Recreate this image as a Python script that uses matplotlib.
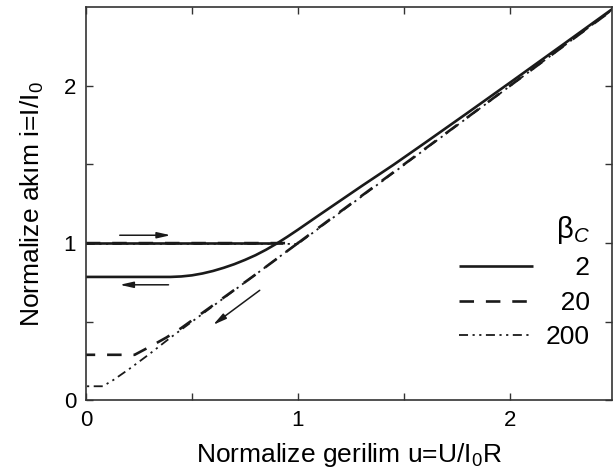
import numpy as np
import matplotlib
matplotlib.use('Agg')
import matplotlib.pyplot as plt

plt.rcParams['font.family'] = ['Liberation Sans', 'DejaVu Sans']
plt.rcParams['mathtext.fontset'] = 'custom'
plt.rcParams['mathtext.rm'] = 'Liberation Sans'
plt.rcParams['mathtext.it'] = 'Liberation Sans:italic'

# beta_C = 2 : switching branch and running (return) branch
b2_up_u = [0.0, 0.90]
b2_up_i = [1.0, 1.0]
b2_run_u = [0.0, 0.40, 0.45, 0.50, 0.55, 0.60, 0.65, 0.70, 0.75, 0.80, 0.85,
            0.90, 0.95, 1.00, 1.10, 1.20, 1.30, 1.45, 1.60, 1.80, 2.00, 2.25,
            2.50]
b2_run_i = [0.785, 0.785, 0.788, 0.795, 0.807, 0.823, 0.843, 0.866, 0.893,
            0.923, 0.958, 0.997, 1.04, 1.085, 1.178, 1.27, 1.362, 1.497,
            1.638, 1.828, 2.02, 2.262, 2.505]

# beta_C = 20
b20_up_u = [0.0, 1.0, 2.5]
b20_up_i = [1.0, 1.0, 2.5]
b20_down_u = [1.0, 0.80, 0.60, 0.45, 0.38, 0.30, 0.23, 0.0]
b20_down_i = [1.0, 0.80, 0.605, 0.46, 0.40, 0.34, 0.29, 0.29]

# beta_C = 200
b200_up_u = [0.0, 1.0, 2.5]
b200_up_i = [0.995, 0.995, 2.5]
b200_down_u = [1.0, 0.80, 0.60, 0.40, 0.30, 0.21, 0.13, 0.08, 0.0]
b200_down_i = [1.0, 0.80, 0.60, 0.40, 0.295, 0.205, 0.13, 0.09, 0.09]

# arrows: (start, end)
arrows = [((0.16, 1.05), (0.40, 1.05)),
          ((0.39, 0.735), (0.16, 0.735)),
          ((0.82, 0.70), (0.60, 0.48))]

fig = plt.figure(figsize=(6.13, 4.75), dpi=100)
ax = fig.add_axes([0.140, 0.157, 0.858, 0.828])

solid = dict(color='#1a1a1a', lw=1.9, solid_capstyle='butt')
ax.plot(b2_up_u, b2_up_i, **solid)
l2, = ax.plot(b2_run_u, b2_run_i, **solid)

dash = dict(color='#1a1a1a', lw=1.9, dashes=(5.5, 4.5))
ax.plot(b20_up_u, b20_up_i, **dash)
l20, = ax.plot(b20_down_u, b20_down_i, **dash)

ddot = dict(color='#1a1a1a', lw=1.3, dashes=(5, 2.5, 1.2, 2.5, 1.2, 2.5))
ax.plot(b200_up_u, b200_up_i, **ddot)
l200, = ax.plot(b200_down_u, b200_down_i, **ddot)

for (s, e) in arrows:
    ax.annotate('', xy=e, xytext=s,
                arrowprops=dict(arrowstyle='-|>,head_length=0.8,head_width=0.18',
                                color='#1a1a1a', lw=1.1, shrinkA=0, shrinkB=0))

ax.set_xlim(0, 2.48)
ax.set_ylim(0, 2.5)
ax.set_xticks([0, 1, 2])
ax.set_yticks([0, 1, 2])
ax.set_xticks([0.5, 1.5], minor=True)
ax.set_yticks([0.5, 1.5], minor=True)
ax.tick_params(which='both', direction='in', top=True, right=True,
               length=5, width=1.0, color='#333333')
ax.tick_params(which='major', labelsize=16, pad=7)
for sp in ax.spines.values():
    sp.set_linewidth(1.2)
    sp.set_color('#333333')

ax.set_xlabel('Normalize gerilim u=U/I$_0$R', fontsize=19, labelpad=7)
ax.set_ylabel('Normalize akım i=I/I$_0$', fontsize=19, labelpad=13)

leg = ax.legend([l2, l20, l200], ['\u2007\u20072', '\u200720', '200'],
                title=r'$\mathrm{\beta}_{\mathit{C}}$',
                loc='upper left', bbox_to_anchor=(0.664, 0.535),
                frameon=False, fontsize=19, title_fontsize=21,
                handlelength=2.8, handletextpad=0.5, labelspacing=0.4)
leg._legend_box.align = 'right'

fig.savefig('out.png', dpi=100)
